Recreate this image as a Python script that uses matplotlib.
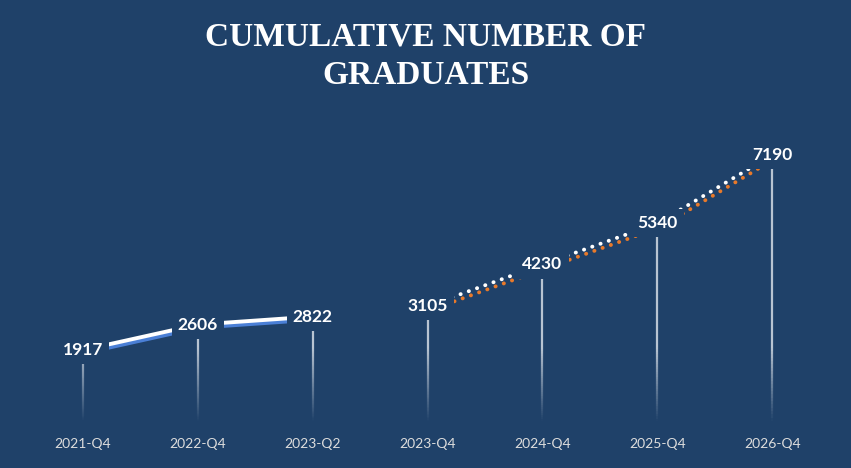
import numpy as np
import matplotlib
matplotlib.use("Agg")
import matplotlib.pyplot as plt
import matplotlib.patheffects as pe
from matplotlib.collections import LineCollection

# chart data
categories = ["2021-Q4", "2022-Q4", "2023-Q2", "2023-Q4", "2024-Q4", "2025-Q4", "2026-Q4"]
actual_idx = [0, 1, 2]
actual_vals = [1917, 2606, 2822]
proj_idx = [3, 4, 5, 6]
proj_vals = [3105, 4230, 5340, 7190]

BG = "#1f4169"
W, H, DPI = 851, 468, 100

fig = plt.figure(figsize=(W / DPI, H / DPI), dpi=DPI, facecolor=BG)
ax = fig.add_axes([25.6 / W, 47 / H, 804 / W, 296 / H], facecolor=BG)
ax.set_xlim(-0.5, 6.5)
ax.set_ylim(0, 8000)
for s in ax.spines.values():
    s.set_visible(False)
ax.set_yticks([])
ax.set_xticks(range(len(categories)))
ax.set_xticklabels(categories, color="#dcdcdc", fontsize=10, family="Lato")
ax.tick_params(axis="x", length=0, pad=12)

all_idx = actual_idx + proj_idx
all_vals = actual_vals + proj_vals

# drop lines from each point to the axis, fading out near the bottom
n = 80
fade = 2000
for x, v in zip(all_idx, all_vals):
    ys = np.linspace(v, 0, n + 1)
    segs = [[(x, ys[i]), (x, ys[i + 1])] for i in range(n)]
    mids = (ys[:-1] + ys[1:]) / 2
    alphas = 0.8 * np.clip(mids / fade, 0, 1)
    cols = [(0.88, 0.9, 0.93, a) for a in alphas]
    ax.add_collection(LineCollection(segs, colors=cols, linewidths=1.6, zorder=1))

# actual: solid white line with blue shadow
ax.plot(actual_idx, actual_vals, color="white", lw=2.8, solid_capstyle="butt", zorder=2,
        path_effects=[pe.SimpleLineShadow(offset=(0.8, -2.2), shadow_color="#4a7fd6", alpha=1),
                      pe.Normal()])

# projected: dotted white line with orange shadow
ax.plot(proj_idx, proj_vals, color="white", lw=2.8, linestyle=(0, (0.05, 2.2)),
        dash_capstyle="round", zorder=2,
        path_effects=[pe.SimpleLineShadow(offset=(1.5, -3.0), shadow_color="#e8792a", alpha=1),
                      pe.Normal()])

# data labels with background box hiding the line ends
for x, v in zip(all_idx, all_vals):
    ax.text(x, v, str(v), ha="center", va="center", color="white", fontsize=12.5,
            fontweight="bold", family=["Lato", "DejaVu Sans"], zorder=3,
            bbox=dict(boxstyle="square,pad=0.35", fc=BG, ec="none"))

fig.text(0.5, 0.88, "CUMULATIVE NUMBER OF\nGRADUATES", ha="center", va="center",
         color="white", fontsize=24, fontweight="bold", family="Liberation Serif",
         linespacing=1.3)

fig.savefig("out.png", dpi=DPI, facecolor=BG)
